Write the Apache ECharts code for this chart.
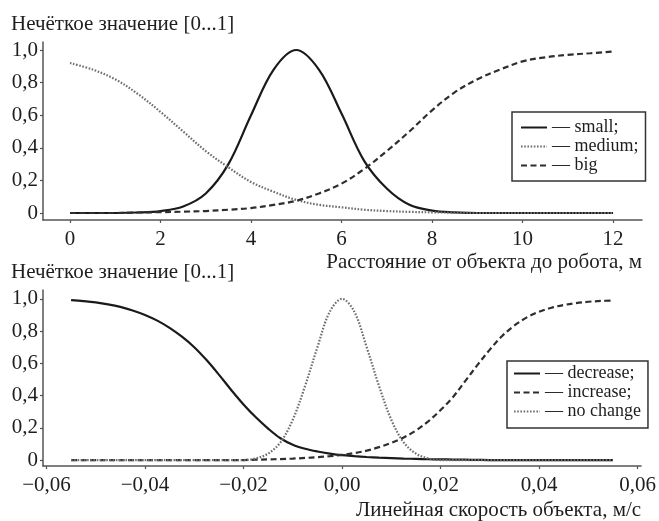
<!DOCTYPE html>
<html>
<head>
<meta charset="utf-8">
<script src="https://cdn.jsdelivr.net/npm/echarts@6/dist/echarts.min.js"></script>
<style>
  html, body { margin: 0; padding: 0; background: #fff; }
  #chart { width: 659px; height: 521px; }
</style>
</head>
<body>
<div id="chart"></div>
<script>
// Membership functions: distance to the robot (m)
const distanceX = [0, 0.5, 1, 1.5, 2, 2.5, 3, 3.5, 4, 4.5, 5, 5.5, 6, 6.5, 7, 7.5, 8, 8.5, 9, 9.5, 10, 10.5, 11, 11.5, 12];
const smallVals  = [0, 0, 0, 0.003, 0.012, 0.04, 0.12, 0.30, 0.60, 0.88, 1.00, 0.88, 0.61, 0.32, 0.15, 0.05, 0.015, 0.004, 0, 0, 0, 0, 0, 0, 0];
const mediumVals = [0.92, 0.88, 0.82, 0.73, 0.62, 0.50, 0.38, 0.28, 0.19, 0.13, 0.08, 0.05, 0.035, 0.02, 0.012, 0.007, 0.004, 0.002, 0, 0, 0, 0, 0, 0, 0];
const bigVals    = [0, 0, 0, 0.003, 0.005, 0.008, 0.012, 0.02, 0.03, 0.05, 0.075, 0.12, 0.18, 0.27, 0.38, 0.50, 0.63, 0.74, 0.82, 0.88, 0.93, 0.955, 0.97, 0.98, 0.99];

// Membership functions: linear speed of the object (m/s)
const speedX = [-0.055, -0.0525, -0.05, -0.0475, -0.045, -0.0425, -0.04, -0.0375, -0.035, -0.0325, -0.03, -0.0275, -0.025, -0.0225, -0.02, -0.0175, -0.015, -0.0125, -0.01, -0.0075, -0.005, -0.0025, 0, 0.0025, 0.005, 0.0075, 0.01, 0.0125, 0.015, 0.0175, 0.02, 0.0225, 0.025, 0.0275, 0.03, 0.0325, 0.035, 0.0375, 0.04, 0.0425, 0.045, 0.0475, 0.05, 0.0525, 0.055];
const decreaseVals = [0.992, 0.986, 0.978, 0.966, 0.95, 0.928, 0.90, 0.865, 0.82, 0.765, 0.70, 0.62, 0.53, 0.435, 0.345, 0.265, 0.195, 0.135, 0.095, 0.07, 0.053, 0.04, 0.03, 0.024, 0.019, 0.015, 0.012, 0.009, 0.007, 0.005, 0.004, 0.003, 0.002, 0.001, 0, 0, 0, 0, 0, 0, 0, 0, 0, 0, 0];
const increaseVals = [0, 0, 0, 0, 0, 0, 0, 0, 0, 0, 0, 0, 0, 0, 0, 0.002, 0.004, 0.006, 0.009, 0.013, 0.018, 0.024, 0.032, 0.043, 0.058, 0.08, 0.107, 0.14, 0.183, 0.24, 0.31, 0.39, 0.49, 0.59, 0.685, 0.77, 0.835, 0.885, 0.92, 0.945, 0.962, 0.974, 0.982, 0.987, 0.99];
const noChangeVals = [0, 0, 0, 0, 0, 0, 0, 0, 0, 0, 0, 0, 0, 0, 0, 0.01, 0.04, 0.11, 0.25, 0.46, 0.70, 0.92, 1.00, 0.92, 0.70, 0.46, 0.25, 0.11, 0.04, 0.01, 0, 0, 0, 0, 0, 0, 0, 0, 0, 0, 0, 0, 0, 0, 0];

// Tick positions and their printed labels
const yTicks = [0, 0.2, 0.4, 0.6, 0.8, 1.0];
const yTickLabels = ['0', '0,2', '0,4', '0,6', '0,8', '1,0'];
const distanceTicks = [0, 2, 4, 6, 8, 10, 12];
const distanceTickLabels = ['0', '2', '4', '6', '8', '10', '12'];
const speedTicks = [-0.06, -0.04, -0.02, 0, 0.02, 0.04, 0.06];
const speedTickLabels = ['\u22120,06', '\u22120,04', '\u22120,02', '0,00', '0,02', '0,04', '0,06'];

const yTitle = 'Нечёткое значение [0...1]';
const distanceName = 'Расстояние от объекта до робота, м';
const speedName = 'Линейная скорость объекта, м/с';
const topNames = ['small', 'medium', 'big'];
const topLegendText = ['— small;', '— medium;', '— big'];
const bottomNames = ['decrease', 'increase', 'no change'];
const bottomLegendText = ['— decrease;', '— increase;', '— no change'];

const FONT = "'Liberation Serif', 'Times New Roman', serif";
const INK = '#1e1e1e';
const AXIS = '#555';
const FS = 21;

const pairs = (xs, ys) => xs.map((x, i) => [x, ys[i]]);
const labelOf = (ticks, labels) => v => {
  const i = ticks.findIndex(t => Math.abs(t - v) < 1e-9);
  return i >= 0 ? labels[i] : '';
};

const solid  = { color: '#1a1a1a', width: 2.2, type: 'solid' };
const dashed = { color: '#2e2e2e', width: 2.2, type: [6, 3.5] };
const dotted = { color: '#6e6e6e', width: 2.2, type: [1.6, 1.6] };

function xAxisOf(gridIndex, min, max, ticks, labels, name, namePad) {
  return {
    type: 'value', gridIndex, min, max,
    name, nameLocation: 'end', nameGap: 0,
    nameTextStyle: { fontFamily: FONT, fontSize: FS, color: INK, align: 'right', verticalAlign: 'top', padding: [namePad, 0, 0, 0] },
    axisLine: { show: true, onZero: false, lineStyle: { color: AXIS, width: 1.5 } },
    axisTick: { show: true, length: 3, inside: false, customValues: ticks, lineStyle: { color: AXIS, width: 1.2 } },
    axisLabel: { customValues: ticks, formatter: labelOf(ticks, labels), fontFamily: FONT, fontSize: FS, color: INK, margin: 9 },
    splitLine: { show: false }
  };
}

function yAxisOf(gridIndex, min, max) {
  return {
    type: 'value', gridIndex, min, max,
    axisLine: { show: true, onZero: false, lineStyle: { color: AXIS, width: 1.5 } },
    axisTick: { show: true, length: 3, inside: false, customValues: yTicks, lineStyle: { color: AXIS, width: 1.2 } },
    axisLabel: { customValues: yTicks, formatter: labelOf(yTicks, yTickLabels), fontFamily: FONT, fontSize: FS, color: INK, margin: 5 },
    splitLine: { show: false }
  };
}

function line(name, xi, data, style) {
  return {
    name, type: 'line', xAxisIndex: xi, yAxisIndex: xi,
    data, smooth: 0.35, showSymbol: false, symbol: 'none',
    lineStyle: style, itemStyle: { color: style.color },
    emphasis: { disabled: true }, animation: false
  };
}

function legendOf(names, texts, left, top, padding) {
  return {
    data: names, orient: 'vertical', left, top, padding,
    itemGap: 0, itemWidth: 26, itemHeight: 10, selectedMode: false,
    borderColor: '#333', borderWidth: 1.5, backgroundColor: '#fff',
    itemStyle: { opacity: 0 },
    textStyle: { fontFamily: FONT, fontSize: 18, color: INK, lineHeight: 19 },
    formatter: n => texts[names.indexOf(n)]
  };
}

const chart = echarts.init(document.getElementById('chart'), null, { renderer: 'canvas' });
chart.setOption({
  backgroundColor: '#fff',
  animation: false,
  title: [
    { text: yTitle, left: 11, top: 13, padding: 0, textStyle: { fontFamily: FONT, fontSize: FS, fontWeight: 'normal', color: INK, lineHeight: 23 } },
    { text: yTitle, left: 11, top: 261, padding: 0, textStyle: { fontFamily: FONT, fontSize: FS, fontWeight: 'normal', color: INK, lineHeight: 23 } }
  ],
  grid: [
    { left: 43, top: 42, width: 599, height: 178 },
    { left: 43, top: 290, width: 599, height: 178 }
  ],
  xAxis: [
    xAxisOf(0, -0.597, 12.64, distanceTicks, distanceTickLabels, distanceName, 32),
    xAxisOf(1, -0.0607, 0.0607, speedTicks, speedTickLabels, speedName, 34)
  ],
  yAxis: [
    yAxisOf(0, -0.043, 1.049),
    yAxisOf(1, -0.037, 1.055)
  ],
  legend: [
    legendOf(topNames, topLegendText, 512, 112, [6, 7, 6, 8]),
    legendOf(bottomNames, bottomLegendText, 507, 361, [3, 7, 7, 6])
  ],
  series: [
    line('small', 0, pairs(distanceX, smallVals), solid),
    line('medium', 0, pairs(distanceX, mediumVals), dotted),
    line('big', 0, pairs(distanceX, bigVals), dashed),
    line('decrease', 1, pairs(speedX, decreaseVals), solid),
    line('increase', 1, pairs(speedX, increaseVals), dashed),
    line('no change', 1, pairs(speedX, noChangeVals), dotted)
  ]
});
</script>
</body>
</html>
